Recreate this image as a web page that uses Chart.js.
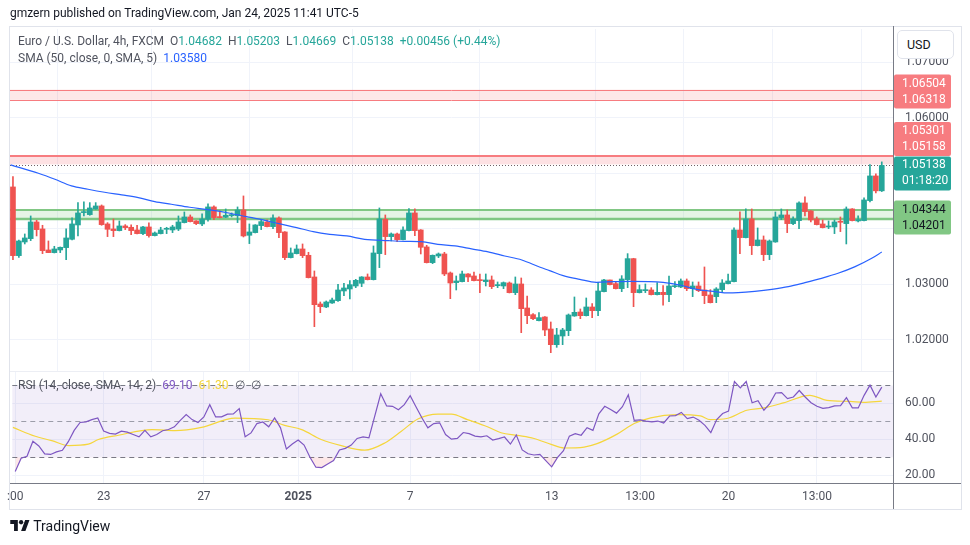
<!DOCTYPE html>
<html>
<head>
<meta charset="utf-8">
<script src="https://cdn.jsdelivr.net/npm/chart.js@4.4.1/dist/chart.umd.min.js"></script>
<style>
  body { margin: 0; background: #fff; font-family: Roboto, "Noto Sans", sans-serif; }
  #wrap { position: relative; width: 970px; height: 545px; overflow: hidden; }
  canvas { position: absolute; left: 0; top: 0; }
  .t { position: absolute; white-space: nowrap; color: #50535e; font-size: 12px; }
  .g { margin-left: 6px; }
  .up { color: #26a69a; }
  .frame { position: absolute; left: 9px; top: 26px; width: 951px; height: 482px; border: 1px solid #e0e3eb; }
  .vsep { position: absolute; left: 893px; top: 26px; width: 1px; height: 483px; background: #787b86; }
  .hsep { position: absolute; left: 10px; top: 483px; width: 951px; height: 1px; background: #787b86; }
  .psep { position: absolute; left: 10px; top: 371px; width: 883px; height: 1px; background: #eceef4; }
  .usd { position: absolute; left: 897px; top: 30px; width: 57px; height: 29px; border: 1px solid #e0e3eb;
         border-radius: 5px; background: #fff; font-size: 12.5px; color: #131722; line-height: 27px; padding-left: 9px; box-sizing: border-box; }
</style>
</head>
<body>
<div id="wrap">
  <div class="frame"></div>
  <canvas id="priceChart" width="970" height="545"></canvas>
  <canvas id="rsiChart" width="970" height="545"></canvas>
  <div class="psep"></div>
  <div class="vsep"></div>
  <div class="hsep"></div>
  <div class="usd">USD</div>
  <div class="t" style="left:10px;top:6px;color:#131722;font-size:12px">gmzern published on TradingView.com, Jan 24, 2025 11:41 UTC-5</div>
  <div class="t" style="left:18px;top:34px">Euro / U.S. Dollar, 4h, FXCM<span class="g">O<span class="up">1.04682</span></span><span class="g">H<span class="up">1.05203</span></span><span class="g">L<span class="up">1.04669</span></span><span class="g">C<span class="up">1.05138</span></span><span class="g up">+0.00456 (+0.44%)</span></div>
  <div class="t" style="left:18px;top:51px">SMA (50, close, 0, SMA, 5)<span class="g" style="color:#2962ff">1.03580</span></div>
  <div class="t" style="left:18px;top:378px">RSI (14, close, SMA, 14, 2)<span class="g" style="color:#7e57c2">69.10</span><span class="g" style="color:#f2d43a">61.30</span><span class="g">∅</span><span class="g">∅</span></div>
  <div class="t" style="left:10px;top:518px;color:#131722;font-size:14px">
    <svg width="20" height="13" viewBox="0 0 36 24" style="vertical-align:-1px"><path d="M14 22H7V9H0V2h14v20zM28 22h-8l7.5-20h8L28 22z" fill="#131722"/><circle cx="20" cy="6" r="4" fill="#131722"/></svg>
    TradingView</div>
</div>
<script>
// 4h candles, EURUSD (FXCM), index 0 .. 147
const opens = [1.04752,1.03516,1.03762,1.03822,1.04122,1.03996,1.03618,1.03570,1.03618,1.03660,
  1.03810,1.04068,1.04290,1.04254,1.04356,1.04410,1.04086,1.03996,1.03966,1.04050,
  1.04026,1.03978,1.03912,1.04032,1.03876,1.03912,1.03990,1.03978,1.03994,1.04110,
  1.04212,1.04140,1.04086,1.04170,1.04392,1.04212,1.04206,1.04236,1.04236,1.04338,
  1.03882,1.03930,1.04056,1.04122,1.04038,1.04194,1.03942,1.03480,1.03552,1.03636,
  1.03522,1.03132,1.02646,1.02592,1.02664,1.02706,1.02880,1.02916,1.02970,1.03018,
  1.03132,1.03084,1.03552,1.04170,1.03858,1.03906,1.03804,1.03966,1.04284,1.03978,
  1.03672,1.03390,1.03510,1.03546,1.03204,1.03030,1.03048,1.03186,1.03150,1.03078,
  1.03048,1.03078,1.02976,1.02970,1.03024,1.02850,1.03006,1.02574,1.02454,1.02346,
  1.02412,1.02196,1.01914,1.02070,1.02166,1.02430,1.02502,1.02436,1.02592,1.02526,
  1.02868,1.03078,1.03012,1.02922,1.03084,1.03462,1.02850,1.02886,1.02898,1.02814,
  1.02856,1.02814,1.02958,1.02952,1.03060,1.02922,1.02970,1.02898,1.02808,1.02778,
  1.02904,1.03012,1.03048,1.03978,1.03840,1.04176,1.03696,1.03798,1.03534,1.03762,
  1.04200,1.04248,1.04092,1.04146,1.04464,1.04320,1.04176,1.04086,1.04032,1.04032,
  1.04128,1.04092,1.04356,1.04140,1.04146,1.04506,1.04950,1.04682];
const highs = [1.04938,1.03798,1.03906,1.04230,1.04152,1.04062,1.03780,1.03684,1.03672,1.03996,
  1.04194,1.04470,1.04482,1.04470,1.04470,1.04428,1.04110,1.04176,1.04140,1.04074,
  1.04068,1.04062,1.04044,1.04104,1.03942,1.04026,1.04026,1.04062,1.04230,1.04302,
  1.04248,1.04146,1.04266,1.04446,1.04410,1.04320,1.04356,1.04284,1.04392,1.04590,
  1.04086,1.04074,1.04164,1.04158,1.04248,1.04212,1.03948,1.03654,1.03708,1.03726,
  1.03576,1.03240,1.02682,1.02700,1.02754,1.03000,1.03018,1.03066,1.03090,1.03138,
  1.03186,1.03690,1.04374,1.04248,1.03924,1.03924,1.04032,1.04362,1.04356,1.03984,
  1.03702,1.03528,1.03564,1.03576,1.03222,1.03150,1.03240,1.03192,1.03222,1.03186,
  1.03186,1.03150,1.03042,1.03042,1.03042,1.03132,1.03114,1.02790,1.02472,1.02490,
  1.02418,1.02322,1.02208,1.02208,1.02466,1.02772,1.02556,1.02754,1.02652,1.03036,
  1.03090,1.03078,1.03042,1.03156,1.03552,1.03468,1.02988,1.03006,1.02940,1.03030,
  1.02976,1.03150,1.03048,1.03096,1.03096,1.03042,1.03042,1.03312,1.02904,1.02940,
  1.03084,1.03186,1.04014,1.04302,1.04356,1.04356,1.04014,1.03870,1.03798,1.04302,
  1.04356,1.04338,1.04212,1.04482,1.04572,1.04326,1.04212,1.04158,1.04140,1.04158,
  1.04212,1.04392,1.04362,1.04230,1.04554,1.05154,1.04986,1.05203];
const lows = [1.03444,1.03486,1.03726,1.03786,1.03870,1.03552,1.03570,1.03564,1.03570,1.03444,
  1.03798,1.03870,1.04230,1.04242,1.04350,1.04062,1.03858,1.03858,1.03960,1.03984,
  1.03894,1.03906,1.03894,1.03846,1.03870,1.03906,1.03912,1.03930,1.03966,1.04104,
  1.04122,1.04074,1.04056,1.04134,1.04164,1.04194,1.04200,1.04212,1.04110,1.03852,
  1.03732,1.03924,1.03984,1.04032,1.04002,1.03840,1.03444,1.03474,1.03546,1.03480,
  1.03114,1.02238,1.02490,1.02580,1.02658,1.02694,1.02796,1.02736,1.02940,1.02958,
  1.03078,1.03078,1.03300,1.03534,1.03780,1.03768,1.03798,1.03960,1.03876,1.03546,
  1.03384,1.03372,1.03480,1.03156,1.02742,1.02898,1.03042,1.03048,1.03060,1.02850,
  1.02970,1.02922,1.02940,1.02922,1.02844,1.02814,1.02130,1.02292,1.02364,1.02340,
  1.02076,1.01770,1.01866,1.01914,1.02076,1.02424,1.02382,1.02430,1.02400,1.02436,
  1.02862,1.02988,1.02916,1.02868,1.02940,1.02598,1.02844,1.02850,1.02808,1.02808,
  1.02626,1.02688,1.02940,1.02940,1.02886,1.02778,1.02868,1.02652,1.02664,1.02670,
  1.02868,1.03006,1.03042,1.03552,1.03834,1.03534,1.03690,1.03426,1.03444,1.03756,
  1.04164,1.03930,1.04074,1.04002,1.04230,1.04122,1.04068,1.04014,1.04002,1.03912,
  1.03948,1.03726,1.04140,1.04122,1.04140,1.04482,1.04644,1.04669];
const closes = [1.03516,1.03780,1.03834,1.04122,1.03984,1.03606,1.03570,1.03636,1.03666,1.03834,
  1.04086,1.04284,1.04308,1.04374,1.04410,1.04074,1.03990,1.03966,1.04050,1.04020,
  1.03966,1.03912,1.04032,1.03876,1.03924,1.03978,1.04002,1.04032,1.04122,1.04212,
  1.04128,1.04092,1.04176,1.04392,1.04200,1.04200,1.04242,1.04248,1.04338,1.03870,
  1.03942,1.04068,1.04128,1.04038,1.04194,1.03930,1.03480,1.03564,1.03636,1.03516,
  1.03120,1.02634,1.02598,1.02682,1.02718,1.02898,1.02934,1.02994,1.03072,1.03132,
  1.03084,1.03564,1.04176,1.03858,1.03906,1.03804,1.03978,1.04284,1.03966,1.03666,
  1.03390,1.03522,1.03546,1.03186,1.03024,1.03060,1.03186,1.03132,1.03066,1.03066,
  1.03078,1.02958,1.02994,1.03030,1.02850,1.03006,1.02562,1.02436,1.02382,1.02400,
  1.02178,1.01914,1.02088,1.02178,1.02448,1.02496,1.02436,1.02592,1.02526,1.02880,
  1.03078,1.02994,1.02922,1.03096,1.03462,1.02850,1.02904,1.02898,1.02814,1.02856,
  1.02814,1.02970,1.02976,1.03060,1.02922,1.02970,1.02886,1.02796,1.02670,1.02916,
  1.03024,1.03060,1.03978,1.03840,1.04176,1.03696,1.03798,1.03534,1.03780,1.04212,
  1.04248,1.04092,1.04176,1.04464,1.04308,1.04158,1.04074,1.04020,1.04044,1.04122,
  1.04116,1.04356,1.04146,1.04164,1.04518,1.04950,1.04682,1.05138];

// SMA 50 (candle index, price)
const smaIdx = [-0.4,4.3,7.1,9.9,12.7,15.5,18.4,21.2,24,26.8,29.9,33.3,36.7,39.5,42.3,45.2,48,50.8,53.6,56.5,
  59.5,63.5,66.3,69.1,71.9,74.8,77.6,80.4,83.2,86.1,89.2,90.8,93.1,95.9,98.7,101.6,104.4,110,112.8,115.7,
  118.8,121,122.7,125.5,128.4,131.2,134,136.8,139.6,142.5,145.3,147];
const smaVal = [1.05148,1.04998,1.04890,1.04770,1.04710,1.04656,1.04608,1.04560,1.04488,1.04440,1.04386,1.04338,1.04278,1.04218,1.04158,1.04086,1.04020,1.03948,1.03900,1.03870,
  1.03810,1.03786,1.03774,1.03768,1.03720,1.03690,1.03636,1.03582,1.03510,1.03438,1.03306,1.03246,1.03156,1.03090,1.03036,1.03048,1.03054,1.03036,1.02988,1.02910,
  1.02868,1.02844,1.02850,1.02874,1.02910,1.02958,1.03030,1.03108,1.03198,1.03318,1.03468,1.03580];

// RSI 14 per candle (null = not read)
const rsiVal = [22.1,29.5,30.6,38.9,36.3,31.9,31.6,33.0,33.9,38.7,45.0,49.4,49.7,51.0,51.9,44.6,43.3,42.9,44.6,44.0,
  42.7,41.4,45.0,41.4,42.7,44.8,45.5,47.0,50.6,53.8,51.0,49.4,52.5,59.3,52.5,52.5,54.0,54.2,57.1,41.4,
  43.6,48.8,49.7,47.0,51.9,46.4,34.6,37.4,39.6,36.8,30.0,24.5,24.3,26.3,28.2,34.1,35.0,36.8,40.5,41.4,
  40.8,null,65.4,58.6,58.4,56.5,59.3,64.3,58.0,51.9,46.4,48.8,49.2,42.7,40.1,40.5,43.8,43.2,41.8,41.4,
  42.0,39.6,40.4,41.3,37.4,42.4,34.1,32.0,31.3,31.6,28.2,24.7,30.0,33.7,41.8,43.2,42.3,46.5,45.0,54.2,
  58.4,56.6,54.6,58.2,64.8,50.6,50.8,50.2,49.7,50.2,49.1,53.0,53.2,55.0,51.5,52.4,50.6,47.8,43.8,51.0,
  54.4,55.7,72.2,68.7,72.2,60.4,61.5,56.2,59.9,65.8,66.0,62.7,63.6,67.2,63.6,60.4,58.4,57.3,57.7,58.6,
  58.8,63.2,57.5,57.5,64.5,70.2,63.6,69.1];
// RSI-based SMA 14 (candle index, value)
const rsiMaIdx = [-0.4,3.4,6.2,9.1,12.4,14.1,17.5,23.2,27.1,31.6,37.3,42.9,45.7,48.6,51.9,55.3,59.3,62.7,65.5,68.3,
  71.7,74,76.7,80.1,82.4,85.2,88,90.9,93.1,96.5,98.7,102.1,105,107.8,112.3,116.2,117.9,120.7,124.1,127,
  130.3,134.8,137.7,141.6,143.9,147];
const rsiMaVal = [46.7,41.7,39.3,36.5,37.3,39.9,42.3,45.4,44.9,46.7,51.8,50.9,47.8,45.4,39.9,36.5,34.0,38.0,44.5,51.3,
  54.1,54.1,51.0,47.0,43.7,42.2,40.5,37.2,35.2,35.7,37.6,42.9,48.8,52.0,53.8,53.1,51.0,51.6,56.2,57.5,
  60.3,64.5,61.7,61.1,60.6,61.3];

// time axis
const timeTickIdx = [0, 15, 32, 48, 67, 91, 106, 121, 136];
const timeTickText = [':00', '23', '27', '2025', '7', '13', '13:00', '20', '13:00'];
const priceTicks = [1.02, 1.03, 1.04, 1.05, 1.06, 1.07];
const rsiTicks = [20, 40, 60];
const rsiLevels = [30, 50, 70];

// drawn levels on the price pane
const redZoneHigh = [1.06504, 1.06318];
const redZoneLow = [1.05301, 1.05158];
const greenZone = [1.04344, 1.04201, 1.04170];
const countdown = '01:18:20';

const upColor = '#26a69a', downColor = '#ef5350';
const gridColor = '#f0f3fa';
const font = 'Roboto, "Noto Sans", sans-serif';
const candleColor = c => closes[c.dataIndex] >= opens[c.dataIndex] ? upColor : downColor;
const xMin = -0.5, xMax = 148.9;

function timeAxis(showLabels, height) {
  return {
    type: 'linear', min: xMin, max: xMax, offset: false,
    afterBuildTicks: s => { s.ticks = timeTickIdx.map(v => ({ value: v })); },
    afterFit: s => { s.height = height; },
    grid: { color: gridColor, drawTicks: false },
    border: { display: false },
    ticks: {
      display: showLabels, autoSkip: false, maxRotation: 0, padding: 7, color: '#50535e',
      font: c => ({ family: font, size: 12, weight: /^\d{4}$/.test(timeTickText[c.index]) ? 'bold' : 'normal' }),
      callback: (v, i) => timeTickText[i]
    }
  };
}

const zonePlugin = {
  id: 'zones',
  beforeDatasetsDraw(chart) {
    const { ctx, chartArea: a, scales: { y } } = chart;
    const line = (v, w, col, dash) => {
      const py = Math.round(y.getPixelForValue(v)) + (w % 2 ? 0.5 : 0);
      ctx.beginPath(); ctx.setLineDash(dash || []); ctx.lineWidth = w; ctx.strokeStyle = col;
      ctx.moveTo(a.left, py); ctx.lineTo(a.right, py); ctx.stroke();
    };
    const band = (v1, v2, col) => {
      const p1 = y.getPixelForValue(v1), p2 = y.getPixelForValue(v2);
      ctx.fillStyle = col; ctx.fillRect(a.left, p1, a.width, p2 - p1);
    };
    ctx.save();
    band(redZoneHigh[0], redZoneHigh[1], 'rgba(242,54,69,0.12)');
    line(redZoneHigh[0], 1, '#f77c80'); line(redZoneHigh[1], 1, '#f77c80');
    band(redZoneLow[0], redZoneLow[1], 'rgba(242,54,69,0.15)');
    line(redZoneLow[0], 2, '#f77c80');
    band(greenZone[0], greenZone[2], 'rgba(129,199,132,0.2)');
    line(greenZone[0], 2, '#81c784'); line(greenZone[1], 1.5, '#81c784'); line(greenZone[2], 1.5, '#81c784');
    line(closes[closes.length - 1], 1, '#6e5f66', [1, 2]);
    ctx.restore();
  },
  afterDraw(chart) {
    const { ctx, chartArea: a, scales: { y } } = chart;
    const last = closes[closes.length - 1];
    const boxes = [
      { lines: redZoneHigh.map(v => v.toFixed(5)), at: redZoneHigh[0], shift: -6, bg: '#f77c80', fg: '#fff' },
      { lines: redZoneLow.map(v => v.toFixed(5)), at: redZoneLow[0], shift: -25.5, bg: '#f77c80', fg: '#fff' },
      { lines: [last.toFixed(5), countdown], at: last, shift: 0, bg: upColor, fg: '#fff' },
      { lines: greenZone.slice(0, 2).map(v => v.toFixed(5)), at: greenZone[0], shift: 0, bg: '#81c784', fg: '#131722' }
    ];
    ctx.save();
    ctx.font = '12px ' + font;
    ctx.textBaseline = 'middle';
    boxes.forEach(b => {
      const t1 = y.getPixelForValue(b.at) + b.shift;
      ctx.fillStyle = b.bg;
      ctx.beginPath(); ctx.roundRect(a.right + 1, t1 - 9, 57, 34, 2); ctx.fill();
      ctx.fillStyle = b.fg;
      ctx.fillText(b.lines[0], a.right + 9, t1);
      ctx.fillText(b.lines[1], a.right + 9, t1 + 16);
    });
    ctx.restore();
  }
};

new Chart(document.getElementById('priceChart'), {
  type: 'bar',
  data: {
    datasets: [
      { type: 'line', order: 0, data: smaIdx.map((x, k) => ({ x, y: smaVal[k] })),
        borderColor: '#2962ff', borderWidth: 1.2, pointRadius: 0, cubicInterpolationMode: 'monotone' },
      { order: 1, grouped: false, barThickness: 5, minBarLength: 1, borderWidth: 0,
        data: closes.map((c, i) => ({ x: i, y: [opens[i], c] })), backgroundColor: candleColor },
      { order: 2, grouped: false, barThickness: 1, borderWidth: 0,
        data: lows.map((l, i) => ({ x: i, y: [l, highs[i]] })), backgroundColor: candleColor }
    ]
  },
  options: {
    responsive: false, animation: false, events: [],
    layout: { padding: { left: 10, right: 10, top: 29, bottom: 174 } },
    plugins: { legend: { display: false }, tooltip: { enabled: false } },
    scales: {
      x: timeAxis(false, 0),
      y: {
        position: 'right', min: 1.0144, max: 1.07594,
        afterBuildTicks: s => { s.ticks = priceTicks.map(v => ({ value: v })); },
        afterFit: s => { s.width = 67; },
        grid: { color: gridColor, drawTicks: false },
        border: { display: false },
        ticks: { padding: 12, color: '#50535e', font: { family: font, size: 12 }, callback: v => v.toFixed(5) }
      }
    }
  },
  plugins: [zonePlugin]
});

const rsiBandPlugin = {
  id: 'rsiBand',
  beforeDatasetsDraw(chart) {
    const { ctx, chartArea: a, scales: { y } } = chart;
    const top = y.getPixelForValue(rsiLevels[2]), bot = y.getPixelForValue(rsiLevels[0]);
    ctx.save();
    ctx.fillStyle = 'rgba(126,87,194,0.1)';
    ctx.fillRect(a.left, top, a.width, bot - top);
    ctx.setLineDash([5, 4]);
    ctx.lineWidth = 1;
    rsiLevels.forEach(v => {
      const py = Math.round(y.getPixelForValue(v)) + 0.5;
      ctx.strokeStyle = v === 50 ? 'rgba(120,123,134,0.7)' : '#787b86';
      ctx.beginPath(); ctx.moveTo(a.left, py); ctx.lineTo(a.right, py); ctx.stroke();
    });
    ctx.restore();
  }
};

new Chart(document.getElementById('rsiChart'), {
  type: 'line',
  data: {
    datasets: [
      { data: rsiVal.map((v, i) => ({ x: i, y: v })), spanGaps: true,
        borderColor: '#7e57c2', borderWidth: 1.2, pointRadius: 0,
        fill: { target: { value: rsiLevels[0] }, above: 'rgba(0,0,0,0)', below: 'rgba(242,54,69,0.12)' } },
      { data: rsiMaIdx.map((x, k) => ({ x, y: rsiMaVal[k] })),
        borderColor: '#f5d63d', borderWidth: 1.2, pointRadius: 0, cubicInterpolationMode: 'monotone' }
    ]
  },
  options: {
    responsive: false, animation: false, events: [],
    layout: { padding: { left: 10, right: 10, top: 372, bottom: 36 } },
    plugins: { legend: { display: false }, tooltip: { enabled: false } },
    scales: {
      x: timeAxis(true, 26),
      y: {
        position: 'right', min: 15.7, max: 77.5,
        afterBuildTicks: s => { s.ticks = rsiTicks.map(v => ({ value: v })); },
        afterFit: s => { s.width = 67; },
        grid: { color: gridColor, drawTicks: false },
        border: { display: false },
        ticks: { padding: 12, color: '#50535e', font: { family: font, size: 12 }, callback: v => v.toFixed(2) }
      }
    }
  },
  plugins: [rsiBandPlugin]
});
</script>
</body>
</html>
